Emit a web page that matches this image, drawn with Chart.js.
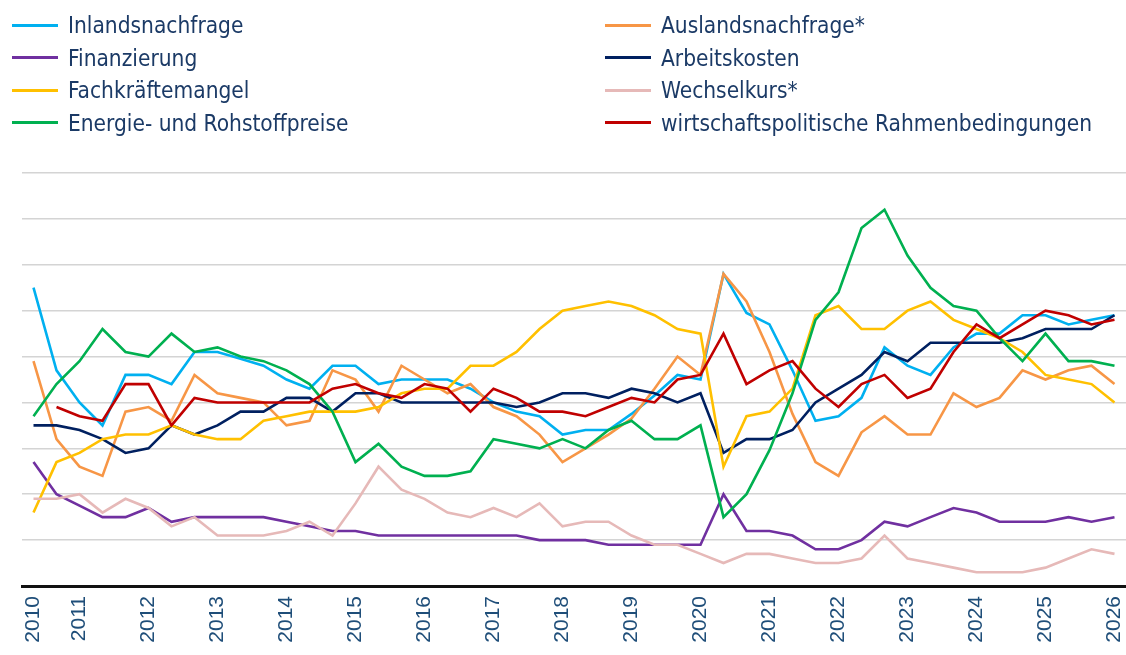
<!DOCTYPE html>
<html>
<head>
<meta charset="utf-8">
<script src="https://cdn.jsdelivr.net/npm/chart.js@4.4.1/dist/chart.umd.min.js"></script>
<style>
  html, body { margin: 0; padding: 0; background: #fff; }
  #wrap { position: relative; width: 1126px; height: 655px; overflow: hidden; }
  #chart { position: absolute; left: 0; top: 0; }
  #legend {
    position: absolute; left: 12px; top: 9px;
    display: grid; grid-template-columns: 593px 500px; grid-auto-rows: 32.5px;
    font-family: "Liberation Sans Narrow", "DejaVu Sans Condensed", sans-serif;
    font-size: 22.5px; color: #1b3a66;
  }
  .item { display: flex; align-items: center; white-space: nowrap; }
  .swatch { width: 46px; height: 3px; margin-right: 10px; }
</style>
</head>
<body>
<div id="wrap">
  <canvas id="chart" width="1126" height="655"></canvas>
  <div id="legend"></div>
</div>
<script>
// tick labels: one year label at the first survey of each year
const years = ['2010','2011','2012','2013','2014','2015','2016','2017','2018',
               '2019','2020','2021','2022','2023','2024','2025','2026'];
const yearAt = [0,2,5,8,11,14,17,20,23,26,29,32,35,38,41,44,47];
const pointCount = 48;

const inland = [65,47,40,35,46,46,44,51, 51,49.5,48,45,43,48,48,44, 45,45,45,43,40,38,37,33,
                34,34,37.5,41.5,46,45,68,59.5, 57,47,36,37,41,52,48,46, 52,55,55,59,59,57,58,59];
const ausland = [49,32,26,24,38,39,36,46, 42,41,40,35,36,47,45,38, 48,45,42,44,39,37,33,27,
                 30,33,36.5,43,50,46,68,62, 51,37.5,27,24,33.5,37,33,33, 42,39,41,47,45,47,48,44];
const finanz = [27,20,17.5,15,15,17,14,15, 15,15,15,14,13,12,12,11, 11,11,11,11,11,11,10,10,
                10,9,9,9,9,9,20,12, 12,11,8,8,10,14,13,15, 17,16,14,14,14,15,14,15];
const arbeit = [35,35,34,32,29,30,35,33, 35,38,38,41,41,38,42,42, 40,40,40,40,40,39,40,42,
                42,41,43,42,40,42,29,32, 32,34,40,43,46,51,49,53, 53,53,53,54,56,56,56,59];
const fachkraft = [16,27,29,32,33,33,35,33, 32,32,36,37,38,38,38,39, 42,43,43,48,48,51,56,60,
                   61,62,61,59,56,55,26,37, 38,43,59,61,56,56,60,62, 58,56,54,51,46,45,44,40];
const wechsel = [19,19,20,16,19,17,13,15, 11,11,11,12,14,11,18,26, 21,19,16,15,17,15,18,13,
                 14,14,11,9,9,7,5,7, 7,6,5,5,6,11,6,5, 4,3,3,3,4,6,8,7];
const energie = [37,44,49,56,51,50,55,51, 52,50,49,47,44,38,27,31, 26,24,24,25,32,31,30,32,
                 30,34,36,32,32,35,15,20, 29.6,42,58,64,78,82,72,65, 61,60,54,49,55,49,49,48];
const wirtschaft = [null,39,37,36,44,44,35,41, 40,40,40,40,40,43,44,42, 41,44,43,38,43,41,38,38,
                    37,39,41,40,45,46,55,44, 47,49,43,39,44,46,41,43, 51,57,54,57,60,59,57,58];

const labels = new Array(pointCount).fill('');
yearAt.forEach((idx, k) => { labels[idx] = years[k]; });

// legend order (two columns, row by row)
const series = [
  { label: 'Inlandsnachfrage', data: inland, color: '#00b0f0' },
  { label: 'Auslandsnachfrage*', data: ausland, color: '#f79646' },
  { label: 'Finanzierung', data: finanz, color: '#7030a0' },
  { label: 'Arbeitskosten', data: arbeit, color: '#002060' },
  { label: 'Fachkräftemangel', data: fachkraft, color: '#ffc000' },
  { label: 'Wechselkurs*', data: wechsel, color: '#e6b9b8' },
  { label: 'Energie- und Rohstoffpreise', data: energie, color: '#00b050' },
  { label: 'wirtschaftspolitische Rahmenbedingungen', data: wirtschaft, color: '#c00000' }
];

const chart = new Chart(document.getElementById('chart'), {
  type: 'line',
  data: {
    labels: labels,
    datasets: series.map((s, i) => ({
      label: s.label,
      data: s.data,
      borderColor: s.color,
      backgroundColor: s.color,
      borderWidth: 2.6,
      pointRadius: 0,
      tension: 0,
      order: series.length - i   // later series drawn on top
    }))
  },
  options: {
    responsive: false,
    animation: false,
    layout: { padding: { top: 173, left: 22, right: 0, bottom: 0 } },
    plugins: { legend: { display: false }, tooltip: { enabled: false } },
    scales: {
      x: {
        offset: true,
        grid: { display: false, drawTicks: false },
        border: { color: '#111', width: 3 },
        afterFit: s => { s.height = 69; s.paddingLeft = 0; s.paddingRight = 0; },
        ticks: {
          autoSkip: false, minRotation: 90, maxRotation: 90, padding: 10,
          color: '#1f4e79', font: { family: 'Liberation Sans', size: 21 }
        }
      },
      y: {
        min: 0, max: 90,
        border: { display: false },
        grid: { color: '#d4d4d4', lineWidth: 1.5, drawTicks: false },
        ticks: { display: false, stepSize: 10 },
        afterFit: s => { s.width = 0; }
      }
    }
  }
});

// html legend in two columns
const legend = document.getElementById('legend');
chart.data.datasets.forEach(ds => {
  const item = document.createElement('div');
  item.className = 'item';
  const sw = document.createElement('span');
  sw.className = 'swatch';
  sw.style.background = ds.borderColor;
  item.appendChild(sw);
  item.appendChild(document.createTextNode(ds.label));
  legend.appendChild(item);
});
</script>
</body>
</html>
